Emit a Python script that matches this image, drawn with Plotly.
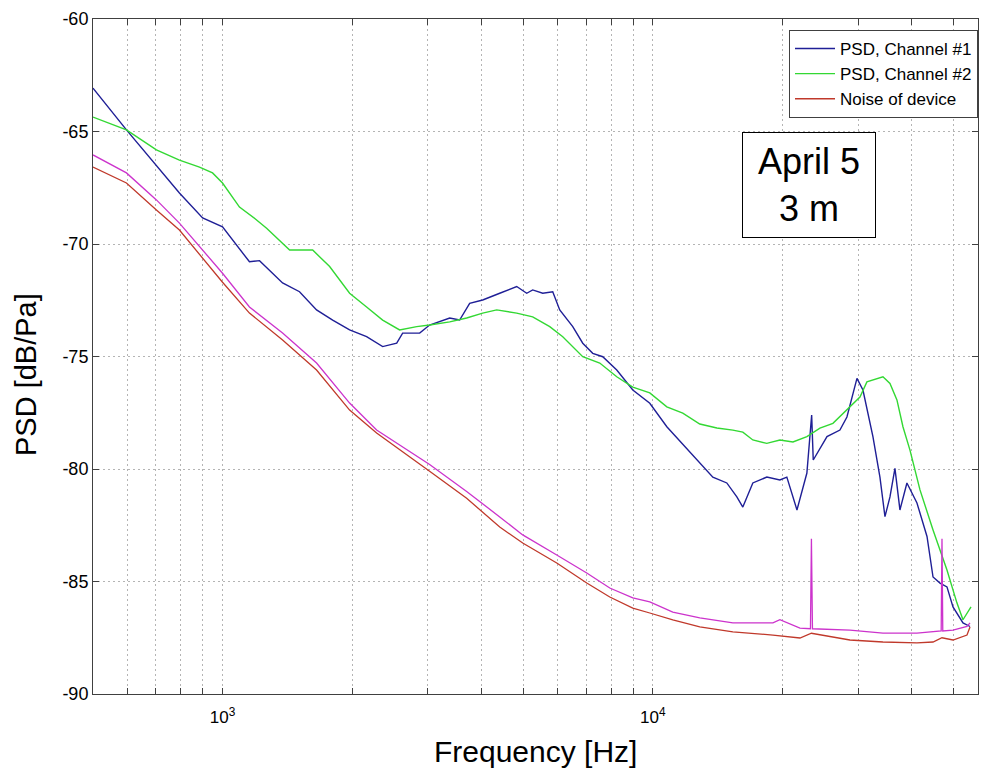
import math
import plotly.graph_objects as go

# ---------------- data ----------------
ch1_freq = [500, 598, 794, 899, 1000, 1155, 1219, 1286, 1379, 1510, 1654, 1803, 1974, 2162, 2356,
            2540, 2622, 2872, 3029, 3373, 3557, 3753, 4024, 4408, 4827, 5093, 5258, 5549, 5854, 6077,
            6516, 6874, 7252, 7650, 8246, 8985, 9840, 10780, 11740, 12860, 13790, 14860, 15680, 16190,
            17080, 18410, 19740, 20490, 21630, 22810, 23400, 23600, 25400, 27220, 28260, 29820, 30790,
            32480, 33720, 34640, 35580, 36540, 37530, 38960, 41110, 43380, 44800, 46500, 48270, 49850,
            52590, 54610]
ch1_db = [-63.07, -64.93, -67.73, -68.84, -69.24, -70.79, -70.74, -71.16, -71.73, -72.12, -72.93,
          -73.38, -73.82, -74.12, -74.56, -74.41, -73.96, -73.96, -73.6, -73.29, -73.38, -72.64,
          -72.49, -72.19, -71.89, -72.19, -72.04, -72.19, -72.12, -72.93, -73.67, -74.41, -74.86,
          -75.01, -75.6, -76.49, -77.08, -78.12, -78.9, -79.73, -80.36, -80.62, -81.24, -81.69,
          -80.62, -80.36, -80.49, -80.36, -81.82, -80.18, -77.6, -79.6, -78.56, -78.27, -77.69,
          -75.97, -76.49, -78.56, -80.36, -82.12, -81.24, -79.97, -81.82, -80.62, -81.51, -83.0,
          -84.8, -85.07, -85.24, -86.13, -86.84, -87.0]

ch2_freq = [500, 598, 702, 794, 884, 948, 1000, 1095, 1200, 1266, 1432, 1620, 1774, 1974, 2162,
            2356, 2580, 2827, 3029, 3373, 3693, 4024, 4337, 4827, 5258, 5761, 6176, 6874, 7528,
            8246, 8985, 9840, 10780, 11740, 12860, 14090, 15350, 16190, 17080, 18410, 19740, 21170,
            22810, 24460, 26220, 28260, 30300, 31450, 33190, 34270, 35580, 36930, 38140, 39600,
            41780, 44800, 48270, 50930, 52590, 53730, 54900]
ch2_db = [-64.36, -64.93, -65.82, -66.27, -66.58, -66.84, -67.29, -68.36, -68.93, -69.3, -70.27,
          -70.27, -71.0, -72.19, -72.8, -73.38, -73.82, -73.67, -73.6, -73.46, -73.29, -73.07,
          -72.93, -73.07, -73.24, -73.67, -74.12, -75.01, -75.29, -75.9, -76.36, -76.62, -77.24,
          -77.52, -78.0, -78.18, -78.27, -78.36, -78.71, -78.86, -78.71, -78.8, -78.56, -78.18,
          -77.97, -77.38, -76.8, -76.13, -75.97, -75.9, -76.2, -76.93, -78.12, -79.16, -80.93,
          -82.71, -84.49, -85.96, -86.7, -86.4, -86.13]

noise_freq = [500, 598, 702, 794, 1000, 1155, 1379, 1654, 1974, 2281, 3029, 3693, 4408, 4985, 5981,
              7023, 7943, 8985, 9840, 11130, 12860, 15350, 19020, 21980, 23370, 28720, 34270, 41110,
              44800, 47000, 49850, 53730, 54610]
noise_db = [-66.58, -67.29, -68.49, -69.38, -71.7, -73.07, -74.27, -75.6, -77.38, -78.4, -80.1,
            -81.3, -82.58, -83.29, -84.18, -85.07, -85.69, -86.18, -86.4, -86.71, -87.02, -87.24,
            -87.38, -87.51, -87.3, -87.6, -87.69, -87.73, -87.69, -87.5, -87.6, -87.38, -87.02]

extra_freq = [500, 598, 702, 794, 1000, 1155, 1379, 1654, 1974, 2281, 3029, 3693, 4408, 4985, 5981,
              7023, 7943, 8985, 9840, 11130, 12860, 15350, 19020, 19740, 21980, 23250, 23370, 23500,
              28720, 34270, 41110, 44800, 46800, 47000, 47200, 49850, 53730, 54610]
extra_db = [-66.04, -66.84, -68.04, -69.07, -71.3, -72.8, -73.96, -75.29, -77.07, -78.27, -79.8,
            -81.0, -82.13, -82.93, -83.82, -84.62, -85.29, -85.73, -85.91, -86.36, -86.62, -86.84,
            -86.84, -86.7, -87.07, -87.1, -83.1, -87.1, -87.16, -87.29, -87.29, -87.24, -87.2,
            -83.1, -87.2, -87.16, -87.0, -86.84]

series_names = ["PSD, Channel #1", "PSD, Channel #2", "Noise of device"]
y_ticks = [-90, -85, -80, -75, -70, -65, -60]
x_decades = [1000, 10000]
x_decade_labels = ["10<sup>3</sup>", "10<sup>4</sup>"]
x_minor = [600, 700, 800, 900, 1000, 2000, 3000, 4000, 5000, 6000, 7000, 8000, 9000,
           10000, 20000, 30000, 40000, 50000]
box_text = "April 5<br>3 m"
x_title = "Frequency [Hz]"
y_title = "PSD [dB/Pa]"

# ---------------- figure ----------------
FONT = "Liberation Sans, Arial, Helvetica, sans-serif"
fig = go.Figure()
fig.add_trace(go.Scatter(x=ch1_freq, y=ch1_db, mode="lines", name=series_names[0],
                         line=dict(color="#1f1f96", width=1.4)))
fig.add_trace(go.Scatter(x=ch2_freq, y=ch2_db, mode="lines", name=series_names[1],
                         line=dict(color="#33d833", width=1.4)))
fig.add_trace(go.Scatter(x=noise_freq, y=noise_db, mode="lines", name=series_names[2],
                         line=dict(color="#c0392b", width=1.3)))
fig.add_trace(go.Scatter(x=extra_freq, y=extra_db, mode="lines", showlegend=False,
                         line=dict(color="#cc33cc", width=1.3)))

tick_text = [x_decade_labels[x_decades.index(v)] if v in x_decades else "" for v in x_minor]

axis_common = dict(
    ticks="inside", ticklen=6, tickcolor="#404040", showline=True, linecolor="#404040",
    linewidth=1, mirror="ticks", showgrid=True, gridcolor="#b4b4b4", griddash="2px,3px",
    gridwidth=1, zeroline=False,
)
fig.update_layout(
    width=982, height=774,
    margin=dict(l=93, r=4, t=19, b=80),
    plot_bgcolor="white", paper_bgcolor="white",
    font=dict(family=FONT, color="black"),
    xaxis=dict(type="log", range=[math.log10(500), 4.7558], tickmode="array",
               tickvals=x_minor, ticktext=tick_text, tickfont=dict(size=17),
               ticklabelstandoff=8, **axis_common),
    yaxis=dict(range=[-90, -60], tickmode="array", tickvals=y_ticks,
               ticktext=[str(v) for v in y_ticks], tickfont=dict(size=18), **axis_common),
    showlegend=True,
    legend=dict(x=1, xanchor="right", y=0.9837, yanchor="top", bgcolor="white",
                bordercolor="#404040", borderwidth=1, font=dict(size=17, family=FONT),
                tracegroupgap=0, itemwidth=40),
    annotations=[
        dict(text=box_text, x=0.809, y=0.7548, xref="paper", yref="paper",
             xanchor="center", yanchor="middle", showarrow=False,
             font=dict(size=36, family=FONT, color="black"), bgcolor="white",
             bordercolor="black", borderwidth=1, borderpad=9, width=114, height=86),
        dict(text=x_title, x=0.5, y=-0.0859, xref="paper", yref="paper",
             xanchor="center", yanchor="middle", showarrow=False,
             font=dict(size=30, family=FONT, color="black")),
        dict(text=y_title, x=-0.0757, y=0.4726, xref="paper", yref="paper",
             xanchor="center", yanchor="middle", showarrow=False, textangle=-90,
             font=dict(size=29, family=FONT, color="black")),
    ],
)

fig.write_html("out.html")
